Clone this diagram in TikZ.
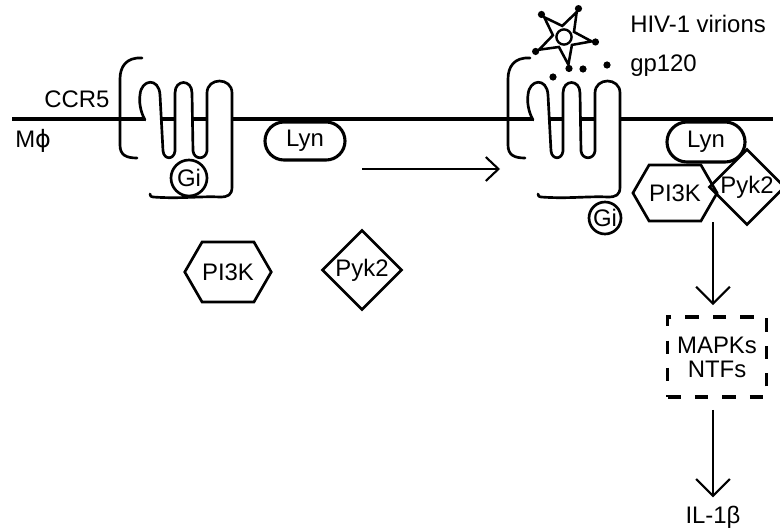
\documentclass[tikz,border=0pt]{standalone}
\usepackage{fontspec}
\setmainfont{Liberation Sans}
\newfontfamily\greek{DejaVu Sans}
\usetikzlibrary{arrows.meta,shapes.geometric,shapes.misc,shapes.symbols}

% seven-helix receptor, drawn with its first helix at the origin
\newcommand{\receptor}{%
	% blank the membrane inside the three outer loops
	\fill[white] (25,2) .. controls (20,-8) and (19,-18) .. (20,-24) .. controls (21,-40) and (39,-42) .. (40,-24) -- (41,2) -- cycle;
	\fill[white] (55,2) -- (55,-26) .. controls (55,-40) and (72,-40) .. (72,-26) -- (72,2) -- cycle;
	\fill[white] (87,2) -- (87,-26) .. controls (87,-42) and (112,-42) .. (112,-26) -- (112,2) -- cycle;
	\draw[helix] (22,-61) .. controls (6,-62) and (0,-52) .. (0,-40) -- (0,26) .. controls (0,36) and (6,39) .. (17,39);
	\draw[helix] (25,1) .. controls (20,-8) and (19,-18) .. (20,-24) .. controls (21,-40) and (39,-42) .. (40,-24)
		-- (43,32) .. controls (44,41) and (54,41) .. (55,32) -- (55,-26) .. controls (55,-40) and (72,-40) .. (72,-26)
		-- (73,32) .. controls (74,41) and (86,41) .. (87,32) -- (87,-26) .. controls (87,-42) and (112,-42) .. (112,-26)
		-- (112,68) .. controls (112,76) and (108,78) .. (100,78) .. controls (80,77) and (60,80) .. (33,78)
		.. controls (31,78) and (30,77) .. (30,75);
}

\begin{document}
\begin{tikzpicture}[x = 0.025cm, y = -0.025cm,
	every node/.style = {font = \fontsize{17}{17}\selectfont, inner sep = 0pt},
	helix/.style = {line width = 1.9pt, line cap = round, line join = round},
	pill/.style = {draw, fill = white, rounded rectangle, line width = 2.2pt},
	hexa/.style = {draw, signal, signal to = west and east, signal pointer angle = 120, line width = 1.9pt},
	kinase/.style = {draw, diamond, aspect = 1, line width = 1.9pt},
	gprot/.style = {draw, fill = white, circle, minimum size = .9cm, line width = 1.9pt},
	arr/.style = {-{Straight Barb[length = 12pt, width = 24pt]}, line width = 1.5pt},
	bead/.style = {fill, circle, minimum size = .18cm}]
	\useasboundingbox (0,0) rectangle (780,531);

	% membrane
	\coordinate (mL) at (12,119);
	\coordinate (mR) at (773,119);
	\draw[line width = 2.3pt] (mL) -- (mR);

	% resting receptor
	\begin{scope}[shift = {(120,119)}]
		\receptor
	\end{scope}
	\node[gprot] (G) at (189,178) {Gi};
	\node[anchor = base] (ccr) at (77,108) {CCR5};
	\node[anchor = base west] (mac) at (15,147) {M{\greek ϕ}};
	\node[pill, minimum width = 2cm, minimum height = .95cm] (L) at (305,141) {Lyn};
	\node[hexa, minimum width = 1.975cm, minimum height = 1.5cm] (P) at (228,272) {PI3K};
	\node[kinase, minimum width = 2cm, minimum height = 2cm] (K) at (362,270) {Pyk2};

	% binding of the virions
	\coordinate (aS) at (362,169);
	\coordinate (aE) at (500,169);
	\draw[line width = 1.5pt, -{Straight Barb[length = 9pt, width = 17pt]}] (aS) -- (aE);

	% activated receptor
	\begin{scope}[shift = {(508,119)}]
		\receptor
	\end{scope}
	\node[gprot, minimum size = .8cm] (G2) at (605,218) {Gi};
	\node[draw, star, star points = 5, star point ratio = 2.5, minimum size = 1.4cm, shape border rotate = 45, line width = 1.8pt] (V) at (564,37) {};
	\node[draw, circle, minimum size = .38cm, line width = 1.7pt] (core) at (V.center) {};
	\foreach \i in {1,...,5}
		\node[bead] (tip\i) at (V.outer point \i) {};
	\node[bead] (gp1) at (553,77) {};
	\node[bead] (gp2) at (583,69) {};
	\node[bead] (gp3) at (607,65) {};
	\node[anchor = base west] (hiv) at (630,33) {HIV-1 virions};
	\node[anchor = base west] (gp) at (630,72) {gp120};

	\node[hexa, minimum width = 1.875cm, minimum height = 1.4cm] (P2) at (675,193) {PI3K};
	\node[kinase, minimum width = 1.9cm, minimum height = 1.9cm] (K2) at (747,187) {Pyk2};
	\node[pill, minimum width = 1.95cm, minimum height = 1cm] (L2) at (706,142) {Lyn};

	% signalling cascade
	\coordinate (C) at (713,222);
	\node[draw, dashed, dash pattern = on 9.5pt off 10pt, line width = 2.8pt, minimum width = 2.475cm, minimum height = 2cm, align = center] (M) at (717,357) {MAPKs\\NTFs};
	\node[anchor = base] (IL) at (713,523) {IL-1β};
	\draw[arr, shorten > = .25cm] (C) -- (C |- M.north);
	\draw[arr, shorten < = .27cm, shorten > = .2cm] (C |- M.south) -- (C |- IL.north);
\end{tikzpicture}
\end{document}
